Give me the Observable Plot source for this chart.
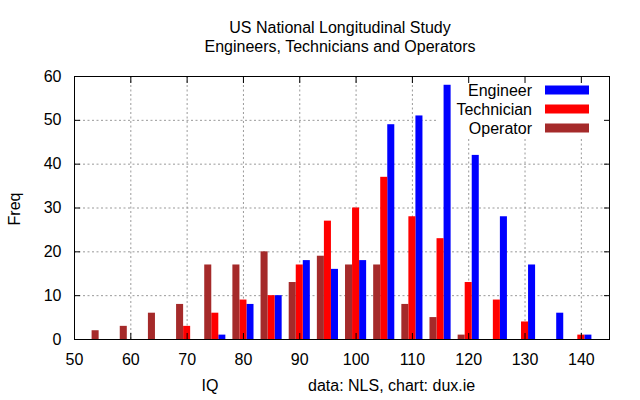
<!DOCTYPE html>
<html><head><meta charset="utf-8">
<script src="https://cdn.jsdelivr.net/npm/d3@7"></script>
<script src="https://cdn.jsdelivr.net/npm/@observablehq/plot@0.6"></script>
<style>body{margin:0;background:#fff} svg{display:block}</style>
</head><body><div id="chart"></div>
<script>
const iq = [55,60,65,70,75,80,85,90,95,100,105,110,115,120,125,130,135,140];
const engineer   = [0,0,0,0,1,8,10,18,16,18,49,51,58,42,28,17,6,1];
const technician = [0,0,0,3,6,9,10,17,27,30,37,28,23,13,9,4,0,1];
const operator   = [2,3,6,8,17,17,20,13,19,17,17,8,5,1,0,0,0,0];
const seriesNames = ["Engineer","Technician","Operator"];
const seriesColors = ["#0000ff","#ff0000","#a52a2a"];
const xTicks = [50,60,70,80,90,100,110,120,130,140];
const yTicks = [0,10,20,30,40,50,60];
const titleLines = ["US National Longitudinal Study","Engineers, Technicians and Operators"];

const valuesBySeries = {Engineer: engineer, Technician: technician, Operator: operator};
const slot = {Operator: -1, Technician: 0, Engineer: 1};
const bw = 1.25;
const rows = seriesNames.flatMap(s => iq.map((v, i) => ({iq: v, series: s, freq: valuesBySeries[s][i]}))).filter(d => d.freq > 0);

const FONT = "'Liberation Sans', Arial, sans-serif";
const FS = 16;

const legendBg = (index, scales, values, dims) => {
  const g = d3.create("svg:g");
  g.append("rect")
    .attr("x", dims.width - dims.marginRight - 172)
    .attr("y", dims.marginTop + 1)
    .attr("width", 171)
    .attr("height", 60)
    .attr("fill", "white");
  return g.node();
};

const svg = Plot.plot({
  width: 640, height: 400,
  marginLeft: 74, marginRight: 31, marginTop: 76, marginBottom: 61,
  style: {fontFamily: FONT, fontSize: FS + "px", background: "white", color: "black"},
  x: {domain: [50, 145], label: null},
  y: {domain: [0, 60], label: null},
  color: {domain: seriesNames, range: seriesColors},
  marks: [
    Plot.gridX(xTicks.filter(v => v > 50), {stroke: "#999", strokeOpacity: 1, strokeDasharray: "2,2.5"}),
    Plot.gridY(yTicks.filter(v => v > 0 && v < 60), {stroke: "#999", strokeOpacity: 1, strokeDasharray: "2,2.5"}),
    legendBg,
    Plot.rect(rows, {
      x1: d => d.iq + (slot[d.series] - 0.5) * bw,
      x2: d => d.iq + (slot[d.series] + 0.5) * bw,
      y1: d => 0, y2: "freq", fill: "series"
    }),
    Plot.axisX(xTicks, {anchor: "bottom", tickSize: -6, tickPadding: 20, fontSize: FS, label: null}),
    Plot.axisX(xTicks, {anchor: "top", tickSize: -6, tickFormat: () => "", label: null}),
    Plot.axisY(yTicks, {anchor: "left", tickSize: -6, tickPadding: 19, fontSize: FS, label: null}),
    Plot.axisY(yTicks, {anchor: "right", tickSize: -6, tickFormat: () => "", label: null}),
    Plot.frame({stroke: "black", strokeWidth: 1})
  ]
});

const s = d3.select(svg);
const txt = (x, y, t, anchor) => s.append("text").attr("x", x).attr("y", y)
  .attr("text-anchor", anchor).attr("font-family", FONT).attr("font-size", FS).attr("fill", "black").text(t);
txt(340, 33, titleLines[0], "middle");
txt(340, 52, titleLines[1], "middle");
txt(210, 391, "IQ", "middle");
txt(308, 391, "data: NLS, chart: dux.ie", "start");
s.append("text").attr("transform", "translate(20,209) rotate(-90)")
  .attr("text-anchor", "middle").attr("font-family", FONT).attr("font-size", FS).attr("fill", "black").text("Freq");

seriesNames.forEach((name, i) => {
  const cy = 90 + i * 19;
  txt(532, cy + 5.5, name, "end");
  s.append("rect").attr("x", 545).attr("y", cy - 4.5).attr("width", 44).attr("height", 9).attr("fill", seriesColors[i]);
});

document.getElementById("chart").appendChild(svg);
</script>
</body></html>
